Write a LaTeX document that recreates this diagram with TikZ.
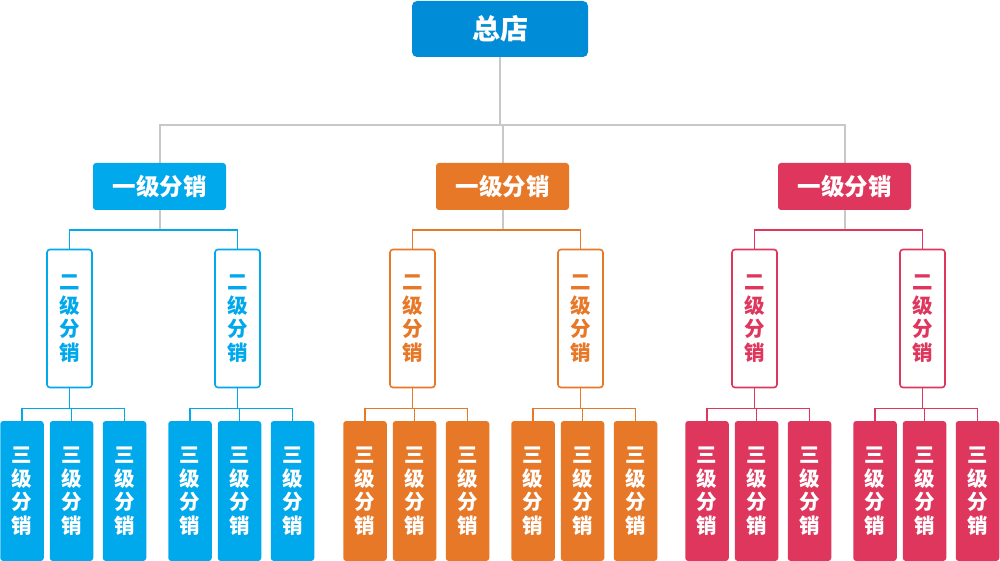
\documentclass[tikz,border=0pt]{standalone}
\usepackage{fontspec}
\newfontfamily\cjk{Noto Sans CJK SC}
\definecolor{hqblue}{RGB}{0,140,214}
\definecolor{lineGray}{RGB}{200,200,200}
\definecolor{brBlue}{RGB}{0,168,236}
\definecolor{brOrange}{RGB}{230,120,40}
\definecolor{brRed}{RGB}{222,54,92}
\tikzset{
	hqbox/.style = {fill=hqblue, text=white, rounded corners=5pt, minimum width=176pt, minimum height=56pt, inner sep=0pt, font=\cjk\bfseries\fontsize{28}{32}\selectfont},
	firstbox/.style = {fill=#1, text=white, rounded corners=3pt, minimum width=133pt, minimum height=47pt, inner sep=0pt, font=\cjk\bfseries\fontsize{23.5}{27}\selectfont},
	secondbox/.style = {draw=#1, line width=1.6pt, fill=white, text=#1, rounded corners=3pt, minimum width=45pt, minimum height=138pt, inner sep=0pt, align=center, font=\cjk\bfseries\fontsize{20.5}{23.5}\selectfont},
	thirdbox/.style = {fill=#1, text=white, rounded corners=3pt, minimum width=43.5pt, minimum height=140pt, inner sep=0pt, align=center, font=\cjk\bfseries\fontsize{20.5}{23.5}\selectfont},
	grayline/.style = {draw=lineGray, line width=2pt},
	branchline/.style = {draw=#1, line width=1.6pt}
}
\begin{document}
\begin{tikzpicture}[x=1pt, y=-1pt]
	\useasboundingbox (0, 0) rectangle (1000, 561);
	\node[hqbox] (hq) at (500, 29) {总店};
	\foreach \c/\x/\n in {brBlue/159.5/a, brOrange/502.5/b, brRed/844.5/c} {
		\draw[grayline] (hq.south) -- ++(0, 68) -| (\x, 230) coordinate (\n-j);
		\node[firstbox=\c] (\n) at (\x, 186.5) {一级分销};
		\foreach \s/\dx in {l/-90, r/78} {
			\node[secondbox=\c] (\n-\s) at (\x+\dx, 318.5) {二\\级\\分\\销};
			\draw[branchline=\c] (\n-j) -| (\n-\s.north);
			\draw[branchline=\c] (\n-\s.south) -- ++(0, 20) coordinate (\n-\s-j);
			\foreach \k/\ddx in {1/-47.5, 2/2, 3/55} {
				\node[thirdbox=\c] (\n-\s-\k) at (\x+\dx+\ddx, 491) {三\\级\\分\\销};
				\draw[branchline=\c] (\n-\s-j) -| (\n-\s-\k.north);
			}
		}
	}
\end{tikzpicture}
\end{document}
